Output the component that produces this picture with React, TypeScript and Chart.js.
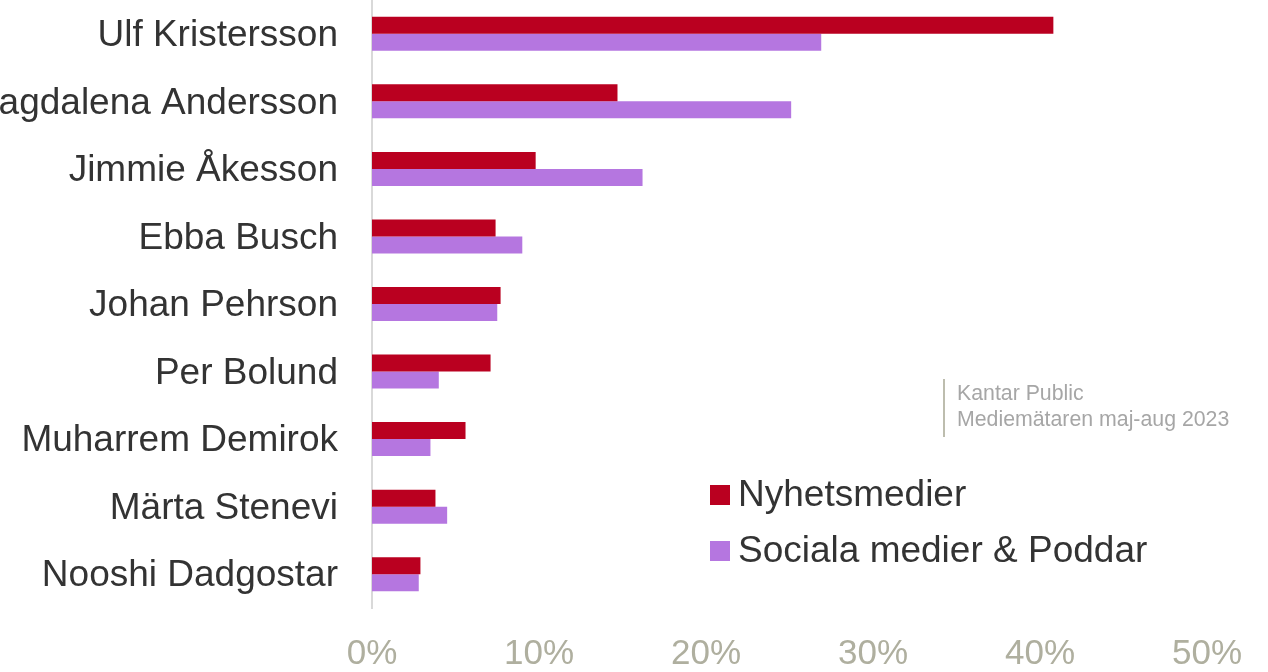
import React, { useEffect, useRef } from "react";
import { Chart, registerables } from "chart.js";

Chart.register(...registerables);

const categories = [
  "Ulf Kristersson",
  "Magdalena Andersson",
  "Jimmie Åkesson",
  "Ebba Busch",
  "Johan Pehrson",
  "Per Bolund",
  "Muharrem Demirok",
  "Märta Stenevi",
  "Nooshi Dadgostar",
];
const nyhetsmedier = [40.8, 14.7, 9.8, 7.4, 7.7, 7.1, 5.6, 3.8, 2.9];
const socialaMedier = [26.9, 25.1, 16.2, 9.0, 7.5, 4.0, 3.5, 4.5, 2.8];
const seriesNames = ["Nyhetsmedier", "Sociala medier & Poddar"];
const noteLines = ["Kantar Public", "Mediemätaren maj-aug 2023"];

const RED = "#BA0020";
const PURPLE = "#B576E0";
const FONT = "'Liberation Sans', Arial, sans-serif";

const overlayPlugin = {
  id: "overlay",
  afterDraw(chart: any) {
    const ctx = chart.ctx;
    ctx.save();
    // legend
    const items = chart.data.datasets;
    const lx = 710;
    const ys = [495, 551];
    items.forEach((ds: any, i: number) => {
      ctx.fillStyle = ds.backgroundColor;
      ctx.fillRect(lx, ys[i] - 10, 20, 20);
      ctx.fillStyle = "#333333";
      ctx.font = `37px ${FONT}`;
      ctx.textAlign = "left";
      ctx.textBaseline = "middle";
      ctx.fillText(ds.label, lx + 28, ys[i] + 1);
    });
    // note
    ctx.strokeStyle = "#BDBDAE";
    ctx.lineWidth = 2;
    ctx.beginPath();
    ctx.moveTo(944, 379);
    ctx.lineTo(944, 437);
    ctx.stroke();
    ctx.fillStyle = "#A6A6A6";
    ctx.font = `21.3px ${FONT}`;
    ctx.textAlign = "left";
    ctx.textBaseline = "middle";
    ctx.fillText(noteLines[0], 957, 394);
    ctx.fillText(noteLines[1], 957, 420);
    ctx.restore();
  },
};

export default function App() {
  const ref = useRef<HTMLCanvasElement>(null);
  useEffect(() => {
    if (!ref.current) return;
    const chart = new Chart(ref.current, {
      type: "bar",
      data: {
        labels: categories,
        datasets: [
          { label: seriesNames[0], data: nyhetsmedier, backgroundColor: RED, borderWidth: 0 },
          { label: seriesNames[1], data: socialaMedier, backgroundColor: PURPLE, borderWidth: 0 },
        ],
      },
      options: {
        indexAxis: "y",
        animation: false,
        responsive: true,
        maintainAspectRatio: false,
        layout: { padding: { left: 0, right: 61, top: 0, bottom: 0 } },
        plugins: { legend: { display: false }, tooltip: { enabled: false } },
        datasets: { bar: { categoryPercentage: 0.503, barPercentage: 1 } },
        scales: {
          x: {
            min: 0,
            max: 50,
            ticks: {
              stepSize: 10,
              color: "#AFAF9F",
              font: { family: FONT, size: 35 },
              padding: 25,
              callback: (v: any) => `${v}%`,
            },
            grid: { display: false, drawTicks: false },
            border: { display: false },
            afterFit: (s: any) => {
              s.height = 64;
            },
          },
          y: {
            ticks: {
              color: "#333333",
              font: { family: FONT, size: 37 },
              padding: 34,
              labelOffset: 2,
              autoSkip: false,
            },
            grid: { display: false, drawTicks: false },
            border: { display: true, color: "#D9D9D9", width: 2 },
            afterFit: (s: any) => {
              s.width = 372;
              s.paddingTop = 0;
              s.paddingBottom = 0;
            },
          },
        },
      },
      plugins: [overlayPlugin],
    });
    return () => chart.destroy();
  }, []);
  return (
    <div style={{ position: "absolute", left: 0, top: 0, width: 1268, height: 672 }}>
      <canvas ref={ref} />
    </div>
  );
}
